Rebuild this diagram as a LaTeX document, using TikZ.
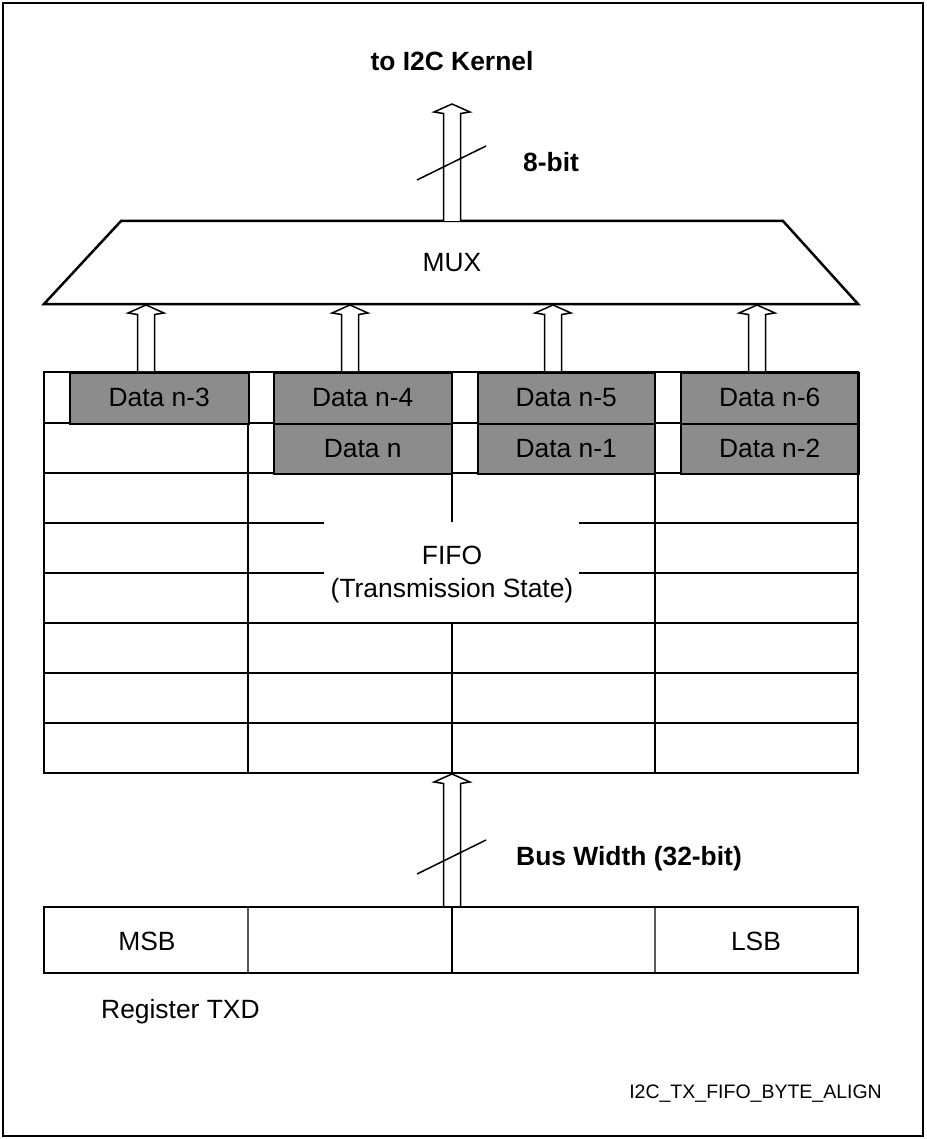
\documentclass[tikz,border=0pt]{standalone}
\usepackage{fontspec}
\setmainfont{Liberation Sans}
\usetikzlibrary{calc}
\definecolor{cellgray}{RGB}{140,140,140}
\definecolor{thingray}{RGB}{90,90,90}
\tikzset{
  main/.style={font=\fontsize{26.4}{31}\selectfont, inner sep=0pt},
  mainbold/.style={font=\fontsize{26.4}{31}\selectfont\bfseries, inner sep=0pt},
  small/.style={font=\fontsize{19.5}{23}\selectfont, inner sep=0pt},
  thick border/.style={line width=2.5pt},
  hollow/.style={draw=black, fill=white, line width=1.5pt, line join=miter},
  databox/.style={draw=black, fill=cellgray, line width=1.5pt},
  slash/.style={line width=1.5pt}
}
\newcommand{\hollowarrow}[2]{%
  \filldraw[hollow] ($(#2)+(-8.5,0)$) -- ($(#1)+(-8.5,9.5)$) -- ($(#1)+(-18,8)$) -- (#1)
    -- ($(#1)+(18,8)$) -- ($(#1)+(8.5,9.5)$) -- ($(#2)+(8.5,0)$);}
\begin{document}
\begin{tikzpicture}[x=1pt,y=-1pt]
\useasboundingbox (0,0) rectangle (926,1139);
% outer frame
\draw[line width=2pt] (3,3) rectangle (923,1136);

% MUX trapezoid
\coordinate (muxTL) at (121,221);
\coordinate (muxTR) at (783,221);
\coordinate (muxBR) at (858,304);
\coordinate (muxBL) at (44,304);
\draw[thick border, line join=miter] (muxTL) -- (muxTR) -- (muxBR) -- (muxBL) -- cycle;
\node[main, anchor=base] (mux) at (452,272) {MUX};

% output arrow
\coordinate (outTip) at (452,104);
\coordinate (outBase) at (452,221);
\hollowarrow{outTip}{outBase}
\draw[slash] (417,180) -- (486,146);
\node[mainbold, anchor=base] (kernel) at (452,71) {to I2C Kernel};
\node[mainbold, anchor=base west] (eightbit) at (523,172) {8-bit};

% FIFO grid
\foreach \y in {423,473,523,573,623,673,723} {
  \draw[line width=1.5pt] (44,\y) -- (858,\y);
}
\draw[line width=2pt] (248,372) -- (248,773);
\draw[line width=2pt] (655,372) -- (655,773);
\draw[line width=1.3pt] (452,372) -- (452,773);
% white mask behind FIFO label
\fill[white] (324,522) rectangle (579,622);
\node[main, anchor=base] (fifo1) at (452,564) {FIFO};
\node[main, anchor=base] (fifo2) at (452,597) {(Transmission State)};
\draw[thick border] (44,372) rectangle (858,773);

% data cells
\node[databox, minimum width=179pt, minimum height=51pt, anchor=north west] (d3) at (69,372) {};
\node[main, anchor=base] at ($(d3.south)+(0,-18)$) {Data n-3};
\node[databox, minimum width=178pt, minimum height=51pt, anchor=north west] (d4) at (273,372) {};
\node[main, anchor=base] at ($(d4.south)+(0,-18)$) {Data n-4};
\node[databox, minimum width=178pt, minimum height=50pt, anchor=north west] (d0) at (273,423) {};
\node[main, anchor=base] at ($(d0.south)+(0,-17)$) {Data n};
\node[databox, minimum width=177pt, minimum height=51pt, anchor=north west] (d5) at (477,372) {};
\node[main, anchor=base] at ($(d5.south)+(0,-18)$) {Data n-5};
\node[databox, minimum width=177pt, minimum height=50pt, anchor=north west] (d1) at (477,423) {};
\node[main, anchor=base] at ($(d1.south)+(0,-17)$) {Data n-1};
\node[databox, minimum width=178pt, minimum height=51pt, anchor=north west] (d6) at (680,372) {};
\node[main, anchor=base] at ($(d6.south)+(0,-18)$) {Data n-6};
\node[databox, minimum width=178pt, minimum height=50pt, anchor=north west] (d2) at (680,423) {};
\node[main, anchor=base] at ($(d2.south)+(0,-17)$) {Data n-2};
\draw[thick border] (44,372) rectangle (858,773);

% arrows FIFO -> MUX
\foreach \cx/\n in {146/a,350/b,553/c,757/d} {
  \coordinate (tip\n) at (\cx,305);
  \coordinate (base\n) at (\cx,371);
  \hollowarrow{tip\n}{base\n}
}

% bus arrow register -> FIFO
\coordinate (busTip) at (452,774);
\coordinate (busBase) at (452,907);
\hollowarrow{busTip}{busBase}
\draw[slash] (417,874) -- (486,840);
\node[mainbold, anchor=base west] (buswidth) at (516,865) {Bus Width (32-bit)};

% register TXD
\draw[line width=1.2pt, draw=thingray] (248,907) -- (248,973);
\draw[line width=1.2pt, draw=black] (452,907) -- (452,973);
\draw[line width=1.2pt, draw=thingray] (655,907) -- (655,973);
\draw[thick border] (44,907) rectangle (858,973);
\node[main, anchor=base] (msb) at (147,950) {MSB};
\node[main, anchor=base] (lsb) at (756,950) {LSB};
\node[main, anchor=base west] (reg) at (101,1018) {Register TXD};
\node[small, anchor=base east] (tag) at (882,1098) {I2C\_TX\_FIFO\_BYTE\_ALIGN};
\end{tikzpicture}
\end{document}
